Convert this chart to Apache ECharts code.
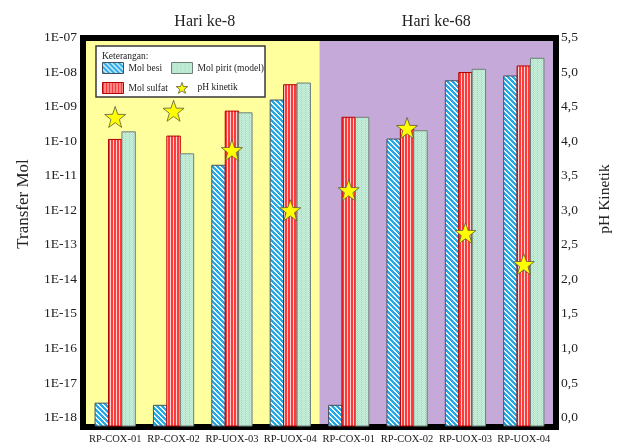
<!DOCTYPE html>
<html>
<head>
<meta charset="utf-8">
<script src="https://cdn.jsdelivr.net/npm/echarts@6/dist/echarts.min.js"></script>
<style>
  html, body { margin: 0; padding: 0; background: #ffffff; }
  #chart { width: 618px; height: 445px; }
</style>
</head>
<body>
<div id="chart"></div>
<script>
// Sample categories, grouped by sampling day (first four: day 8, last four: day 68)
const categories = ['RP-COX-01', 'RP-COX-02', 'RP-UOX-03', 'RP-UOX-04',
                    'RP-COX-01', 'RP-COX-02', 'RP-UOX-03', 'RP-UOX-04'];
const periodTitles = ['Hari ke-8', 'Hari ke-68'];

// Transferred moles (log scale)
const molBesi   = [2.6e-18, 2.25e-18, 2.0e-11, 1.55e-9, 2.25e-18, 1.15e-10, 5.6e-9, 7.7e-9];
const molSulfat = [1.12e-10, 1.4e-10, 7.4e-10, 4.3e-9, 4.9e-10, 2.2e-10, 9.7e-9, 1.5e-8];
const molPirit  = [1.86e-10, 4.3e-11, 6.6e-10, 4.8e-9, 4.9e-10, 2.0e-10, 1.2e-8, 2.5e-8];

// Kinetic pH (right axis)
const phKinetik = [4.35, 4.44, 3.87, 3.0, 3.29, 4.19, 2.67, 2.22];

// Axis extents
const molExpMin = -18, molExpMax = -7;
const phMin = 0, phMax = 5.5, phStep = 0.5;

const SERIF = '"Liberation Serif", "DejaVu Serif", serif';
const STAR = 'path://M0,-10L2.35,-3.24L9.51,-3.09L3.8,1.24L5.88,8.09L0,4L-5.88,8.09L-3.8,1.24L-9.51,-3.09L-2.35,-3.24Z';

// Plot geometry
const W = 618, H = 445;
const plotL = 86, plotR = 553, plotT = 37.5, labelBottom = 417.5, barBase = 426;
// bars start slightly below the lowest labelled decade
const pxPerDecade = (labelBottom - plotT) / (molExpMax - molExpMin);
const barExpMin = molExpMin - (barBase - labelBottom) / pxPerDecade;
const barFrac = 0.23;   // bar width as a share of one category band

function expLabel(v) {
  const e = Math.round(Math.log10(v));
  const a = Math.abs(e);
  return '1E' + (e < 0 ? '-' : '+') + (a < 10 ? '0' : '') + a;
}

// Small repeating tiles used as bar fills
function tile(size, paint) {
  const c = document.createElement('canvas');
  c.width = size[0]; c.height = size[1];
  const ctx = c.getContext('2d');
  for (let y = 0; y < size[1]; y++) {
    for (let x = 0; x < size[0]; x++) {
      ctx.fillStyle = paint(x, y);
      ctx.fillRect(x, y, 1, 1);
    }
  }
  return { image: c, repeat: 'repeat' };
}
// diagonal blue/white hatching
const besiFill = tile([5, 5], (x, y) => (((x - y) % 5 + 5) % 5) < 3 ? '#25a9e6' : '#eaf7fd');
// vertical red stripes
const sulfatFill = tile([3, 1], (x) => x === 2 ? '#ffd2d2' : '#ff3a3a');
// fine mint weave
const piritFill = tile([4, 4], (x, y) => ((x + y) % 2 === 0) ? '#c9efdc' : ((x % 4 === 1 && y % 2 === 0) ? '#9fd6bb' : '#b6e6cd'));

const styles = [
  { fill: besiFill, stroke: '#45525e' },
  { fill: sulfatFill, stroke: '#b40000' },
  { fill: piritFill, stroke: '#6e7f75' }
];

function barSeries(name, values, k) {
  const st = styles[k];
  return {
    name: name, type: 'custom', xAxisIndex: 0, yAxisIndex: 0, z: 3,
    silent: true,
    itemStyle: { color: st.fill, borderColor: st.stroke, borderWidth: 1 },
    encode: { x: 0, y: 1 },
    data: values.map((v, i) => [i, v]),
    renderItem: function (params, api) {
      const i = api.value(0), v = api.value(1);
      const top = api.coord([i, v]);
      const base = api.coord([i, Math.pow(10, barExpMin)]);
      const band = api.size([1, v], [i, v])[0];
      const w = band * barFrac;
      const x = top[0] + (k - 1) * w - w / 2;
      return {
        type: 'rect',
        shape: { x: x, y: top[1], width: w, height: base[1] - top[1] },
        style: { fill: st.fill, stroke: st.stroke, lineWidth: 1 }
      };
    }
  };
}

const chart = echarts.init(document.getElementById('chart'), null, { renderer: 'canvas' });

const legendText = { fontSize: 9.5, color: '#222', fontFamily: SERIF };

chart.setOption({
  backgroundColor: '#ffffff',
  animation: false,
  textStyle: { fontFamily: SERIF },
  grid: [
    // bars
    { left: plotL, right: W - plotR, top: plotT, bottom: H - barBase },
    // labelled axes and pH markers
    { left: plotL, right: W - plotR, top: plotT, bottom: H - labelBottom }
  ],
  xAxis: [
    { type: 'category', gridIndex: 0, data: categories, position: 'bottom',
      axisLine: { show: false }, axisTick: { show: false },
      axisLabel: { interval: 0, margin: 8, color: '#222', fontSize: 10.5, fontFamily: SERIF } },
    { type: 'value', gridIndex: 0, min: 0, max: categories.length, show: false },
    { type: 'category', gridIndex: 1, data: categories, show: false }
  ],
  yAxis: [
    { type: 'log', gridIndex: 0, logBase: 10, min: Math.pow(10, barExpMin),
      max: Math.pow(10, molExpMax), show: false },
    { type: 'log', gridIndex: 1, logBase: 10, min: Math.pow(10, molExpMin),
      max: Math.pow(10, molExpMax), interval: 1, position: 'left',
      axisLine: { show: false }, axisTick: { show: false }, splitLine: { show: false },
      axisLabel: { formatter: expLabel, color: '#222', fontSize: 13.5, margin: 9, fontFamily: SERIF } },
    { type: 'value', gridIndex: 1, min: phMin, max: phMax, interval: phStep, position: 'right',
      axisLine: { show: false }, axisTick: { show: false }, splitLine: { show: false },
      axisLabel: { formatter: v => v.toFixed(1).replace('.', ','), color: '#222',
                   fontSize: 13.5, margin: 8, fontFamily: SERIF } }
  ],
  legend: [
    { orient: 'vertical', left: 102, top: 62, padding: 0, itemWidth: 21, itemHeight: 11, itemGap: 8,
      selectedMode: false, z: 6, textStyle: legendText,
      data: [
        { name: 'Mol besi', icon: 'rect', itemStyle: { color: besiFill, borderColor: styles[0].stroke, borderWidth: 1 } },
        { name: 'Mol sulfat', icon: 'rect', itemStyle: { color: sulfatFill, borderColor: styles[1].stroke, borderWidth: 1 } }
      ] },
    { orient: 'vertical', left: 171, top: 62, padding: 0, itemWidth: 21, itemHeight: 11, itemGap: 8,
      selectedMode: false, z: 6, textStyle: legendText,
      data: [
        { name: 'Mol pirit (model)', icon: 'rect', itemStyle: { color: piritFill, borderColor: styles[2].stroke, borderWidth: 1 } },
        { name: 'pH kinetik', icon: STAR, itemStyle: { color: '#ffff00', borderColor: '#5a5a3a', borderWidth: 0.8 } }
      ] }
  ],
  graphic: [
    // thick black frame around the plot
    { type: 'rect', z: 2.5, silent: true,
      shape: { x: plotL - 3, y: plotT + 0.5, width: plotR - plotL + 6, height: barBase + 0.5 - plotT },
      style: { fill: 'none', stroke: '#000', lineWidth: 6 } },
    // legend box
    { type: 'rect', z: 4, silent: true,
      shape: { x: 96, y: 46, width: 169, height: 51 },
      style: { fill: '#ffffff', stroke: '#3a3a3a', lineWidth: 1.5 } },
    { type: 'text', z: 5, silent: true, x: 102, y: 51,
      style: { text: 'Keterangan:', fontSize: 9.5, fontFamily: SERIF, fill: '#222' } },
    // period titles
    { type: 'text', silent: true, x: (plotL + (plotL + plotR) / 2) / 2 + 2, y: 22,
      style: { text: periodTitles[0], fontSize: 16, fontFamily: SERIF, fill: '#222',
               textAlign: 'center', textVerticalAlign: 'middle' } },
    { type: 'text', silent: true, x: ((plotL + plotR) / 2 + plotR) / 2, y: 22,
      style: { text: periodTitles[1], fontSize: 16, fontFamily: SERIF, fill: '#222',
               textAlign: 'center', textVerticalAlign: 'middle' } },
    // axis names
    { type: 'text', silent: true, x: 24, y: 204, rotation: Math.PI / 2,
      style: { text: 'Transfer Mol', fontSize: 17, fontFamily: SERIF, fill: '#222',
               textAlign: 'center', textVerticalAlign: 'middle' } },
    { type: 'text', silent: true, x: 605, y: 199, rotation: Math.PI / 2,
      style: { text: 'pH Kinetik', fontSize: 15.5, fontFamily: SERIF, fill: '#222',
               textAlign: 'center', textVerticalAlign: 'middle' } }
  ],
  series: [
    // day backgrounds
    { type: 'scatter', xAxisIndex: 1, yAxisIndex: 0, data: [], silent: true,
      markArea: { silent: true, z: 1,
        data: [
          [{ xAxis: 0, itemStyle: { color: '#ffff9e' } }, { xAxis: categories.length / 2 }],
          [{ xAxis: categories.length / 2, itemStyle: { color: '#c5a9d8' } }, { xAxis: categories.length }]
        ] } },
    barSeries('Mol besi', molBesi, 0),
    barSeries('Mol sulfat', molSulfat, 1),
    barSeries('Mol pirit (model)', molPirit, 2),
    { name: 'pH kinetik', type: 'scatter', xAxisIndex: 2, yAxisIndex: 2, data: phKinetik,
      symbol: STAR, symbolSize: 21, z: 5, silent: true,
      itemStyle: { color: '#ffff00', borderColor: '#5a5a3a', borderWidth: 0.8, opacity: 1 } }
  ]
});
</script>
</body>
</html>
